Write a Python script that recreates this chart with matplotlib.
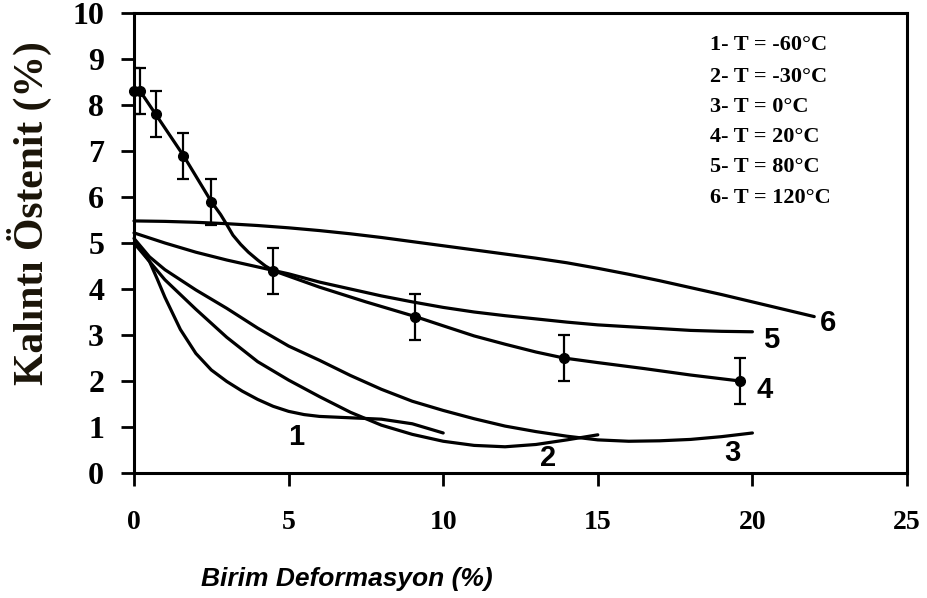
import matplotlib
matplotlib.use("Agg")
import matplotlib.pyplot as plt

# ---- data ----
x1 = [0, 0.25, 0.5, 0.75, 1, 1.5, 2, 2.5, 3, 3.5, 4, 4.5, 5, 5.5, 6, 7, 8, 9, 10]
y1 = [5.0, 4.83, 4.6, 4.22, 3.82, 3.12, 2.6, 2.24, 1.99, 1.78, 1.6, 1.45, 1.34, 1.27, 1.23, 1.2, 1.17, 1.07, 0.87]

x2 = [0, 0.5, 1, 2, 3, 4, 5, 6, 7, 8, 9, 10, 11, 12, 13, 14, 15]
y2 = [5.0, 4.6, 4.2, 3.56, 2.95, 2.42, 2.02, 1.66, 1.32, 1.04, 0.84, 0.69, 0.6, 0.57, 0.62, 0.72, 0.83]

x3 = [0, 0.5, 1, 2, 3, 4, 5, 6, 7, 8, 9, 10, 11, 12, 13, 14, 15, 16, 17, 18, 19, 20]
y3 = [5.1, 4.7, 4.42, 3.98, 3.58, 3.15, 2.76, 2.45, 2.12, 1.82, 1.56, 1.36, 1.18, 1.02, 0.9, 0.8, 0.72, 0.69, 0.7, 0.73, 0.79, 0.87]

x4_line = [0, 0.2, 0.7, 1.6, 2.5, 2.8, 3.0, 3.2, 3.45, 3.7, 4.0, 4.25, 4.5, 6, 7.5, 9.1, 10, 11, 12, 13, 13.9, 15, 16.5, 18, 19.6]
y4_line = [8.3, 8.3, 7.8, 6.9, 5.9, 5.62, 5.4, 5.17, 4.97, 4.8, 4.63, 4.5, 4.4, 4.04, 3.72, 3.4, 3.2, 2.98, 2.8, 2.63, 2.5, 2.4, 2.27, 2.13, 2.0]
x4_pts = [0, 0.2, 0.7, 1.6, 2.5, 4.5, 9.1, 13.9, 19.6]
y4_pts = [8.3, 8.3, 7.8, 6.9, 5.9, 4.4, 3.4, 2.5, 2.0]
err4 = [0.5, 0.5, 0.5, 0.5, 0.5, 0.5, 0.5, 0.5, 0.5]

x5 = [0, 1, 2, 3, 4, 5, 6, 7, 8, 9, 10, 11, 12, 13, 14, 15, 16, 17, 18, 19, 20]
y5 = [5.22, 5.0, 4.8, 4.63, 4.48, 4.33, 4.15, 4.0, 3.85, 3.72, 3.6, 3.5, 3.42, 3.35, 3.28, 3.22, 3.18, 3.14, 3.1, 3.08, 3.07]

x6 = [0, 1, 2, 3, 4, 5, 6, 7, 8, 9, 10, 11, 12, 13, 14, 15, 16, 17, 18, 19, 20, 21, 22]
y6 = [5.48, 5.47, 5.45, 5.42, 5.38, 5.33, 5.27, 5.2, 5.12, 5.03, 4.94, 4.85, 4.76, 4.67, 4.57, 4.45, 4.32, 4.18, 4.03, 3.88, 3.72, 3.56, 3.4]

curve_labels = ["1", "2", "3", "4", "5", "6"]
label_x = [5.24, 13.4, 19.35, 20.4, 20.6, 22.45]
label_y = [0.78, 0.33, 0.43, 1.8, 2.89, 3.26]

legend_lines = ["1- T = -60°C", "2- T = -30°C", "3- T = 0°C",
                "4- T = 20°C", "5- T = 80°C", "6- T = 120°C"]

xticks = [0, 5, 10, 15, 20, 25]
yticks = [0, 1, 2, 3, 4, 5, 6, 7, 8, 9, 10]

# ---- figure ----
fig = plt.figure(figsize=(9.28, 5.98), dpi=100)
ax = fig.add_axes([134/928, 1 - 473/598, 773/928, 460/598])

lw = 2.3
for xs, ys in [(x1, y1), (x2, y2), (x3, y3), (x5, y5), (x6, y6), (x4_line, y4_line)]:
    ax.plot(xs, ys, color="black", lw=lw, solid_capstyle="round", solid_joinstyle="round",
            clip_on=False)

eb = ax.errorbar(x4_pts, y4_pts, yerr=err4, fmt="o", color="black", ms=7,
                 elinewidth=1.6, capsize=4, capthick=1.6)
for art in eb.lines[0:1]:
    art.set_clip_on(False)

for t, lx, ly in zip(curve_labels, label_x, label_y):
    ax.text(lx, ly, t, fontsize=21, fontweight="bold", family="Liberation Sans",
            ha="center", va="center")

leg_y = [0.930, 0.861, 0.796, 0.730, 0.665, 0.598]
for t, yy in zip(legend_lines, leg_y):
    ax.text(0.745, yy, t, transform=ax.transAxes, fontsize=16, fontweight="bold",
            family="Liberation Serif", ha="left", va="center")

ax.set_xlim(0, 25)
ax.set_ylim(0, 10)
ax.set_xticks(xticks)
ax.set_yticks(yticks)
for s in ax.spines.values():
    s.set_linewidth(2.2)
ax.tick_params(axis="both", direction="out", length=9.5, width=2.0)
ax.tick_params(axis="x", pad=17)
ax.tick_params(axis="y", pad=12)
for lab in ax.get_xticklabels():
    lab.set_fontsize(20); lab.set_fontweight("bold"); lab.set_family("Liberation Serif")
for lab in ax.get_yticklabels():
    lab.set_fontsize(23); lab.set_fontweight("bold"); lab.set_family("Liberation Serif")

ax.set_ylabel("Kalıntı Östenit (%)", fontsize=30, fontweight="bold",
              family="Liberation Serif", color="#1a1408")
ax.yaxis.set_label_coords(-0.106, 0.565)
ax.set_xlabel("Birim Deformasyon (%)", fontsize=19, fontweight="bold", style="italic",
              family="Liberation Sans")
ax.xaxis.set_label_coords(0.275, -0.204)

fig.savefig("out.png", dpi=100)
